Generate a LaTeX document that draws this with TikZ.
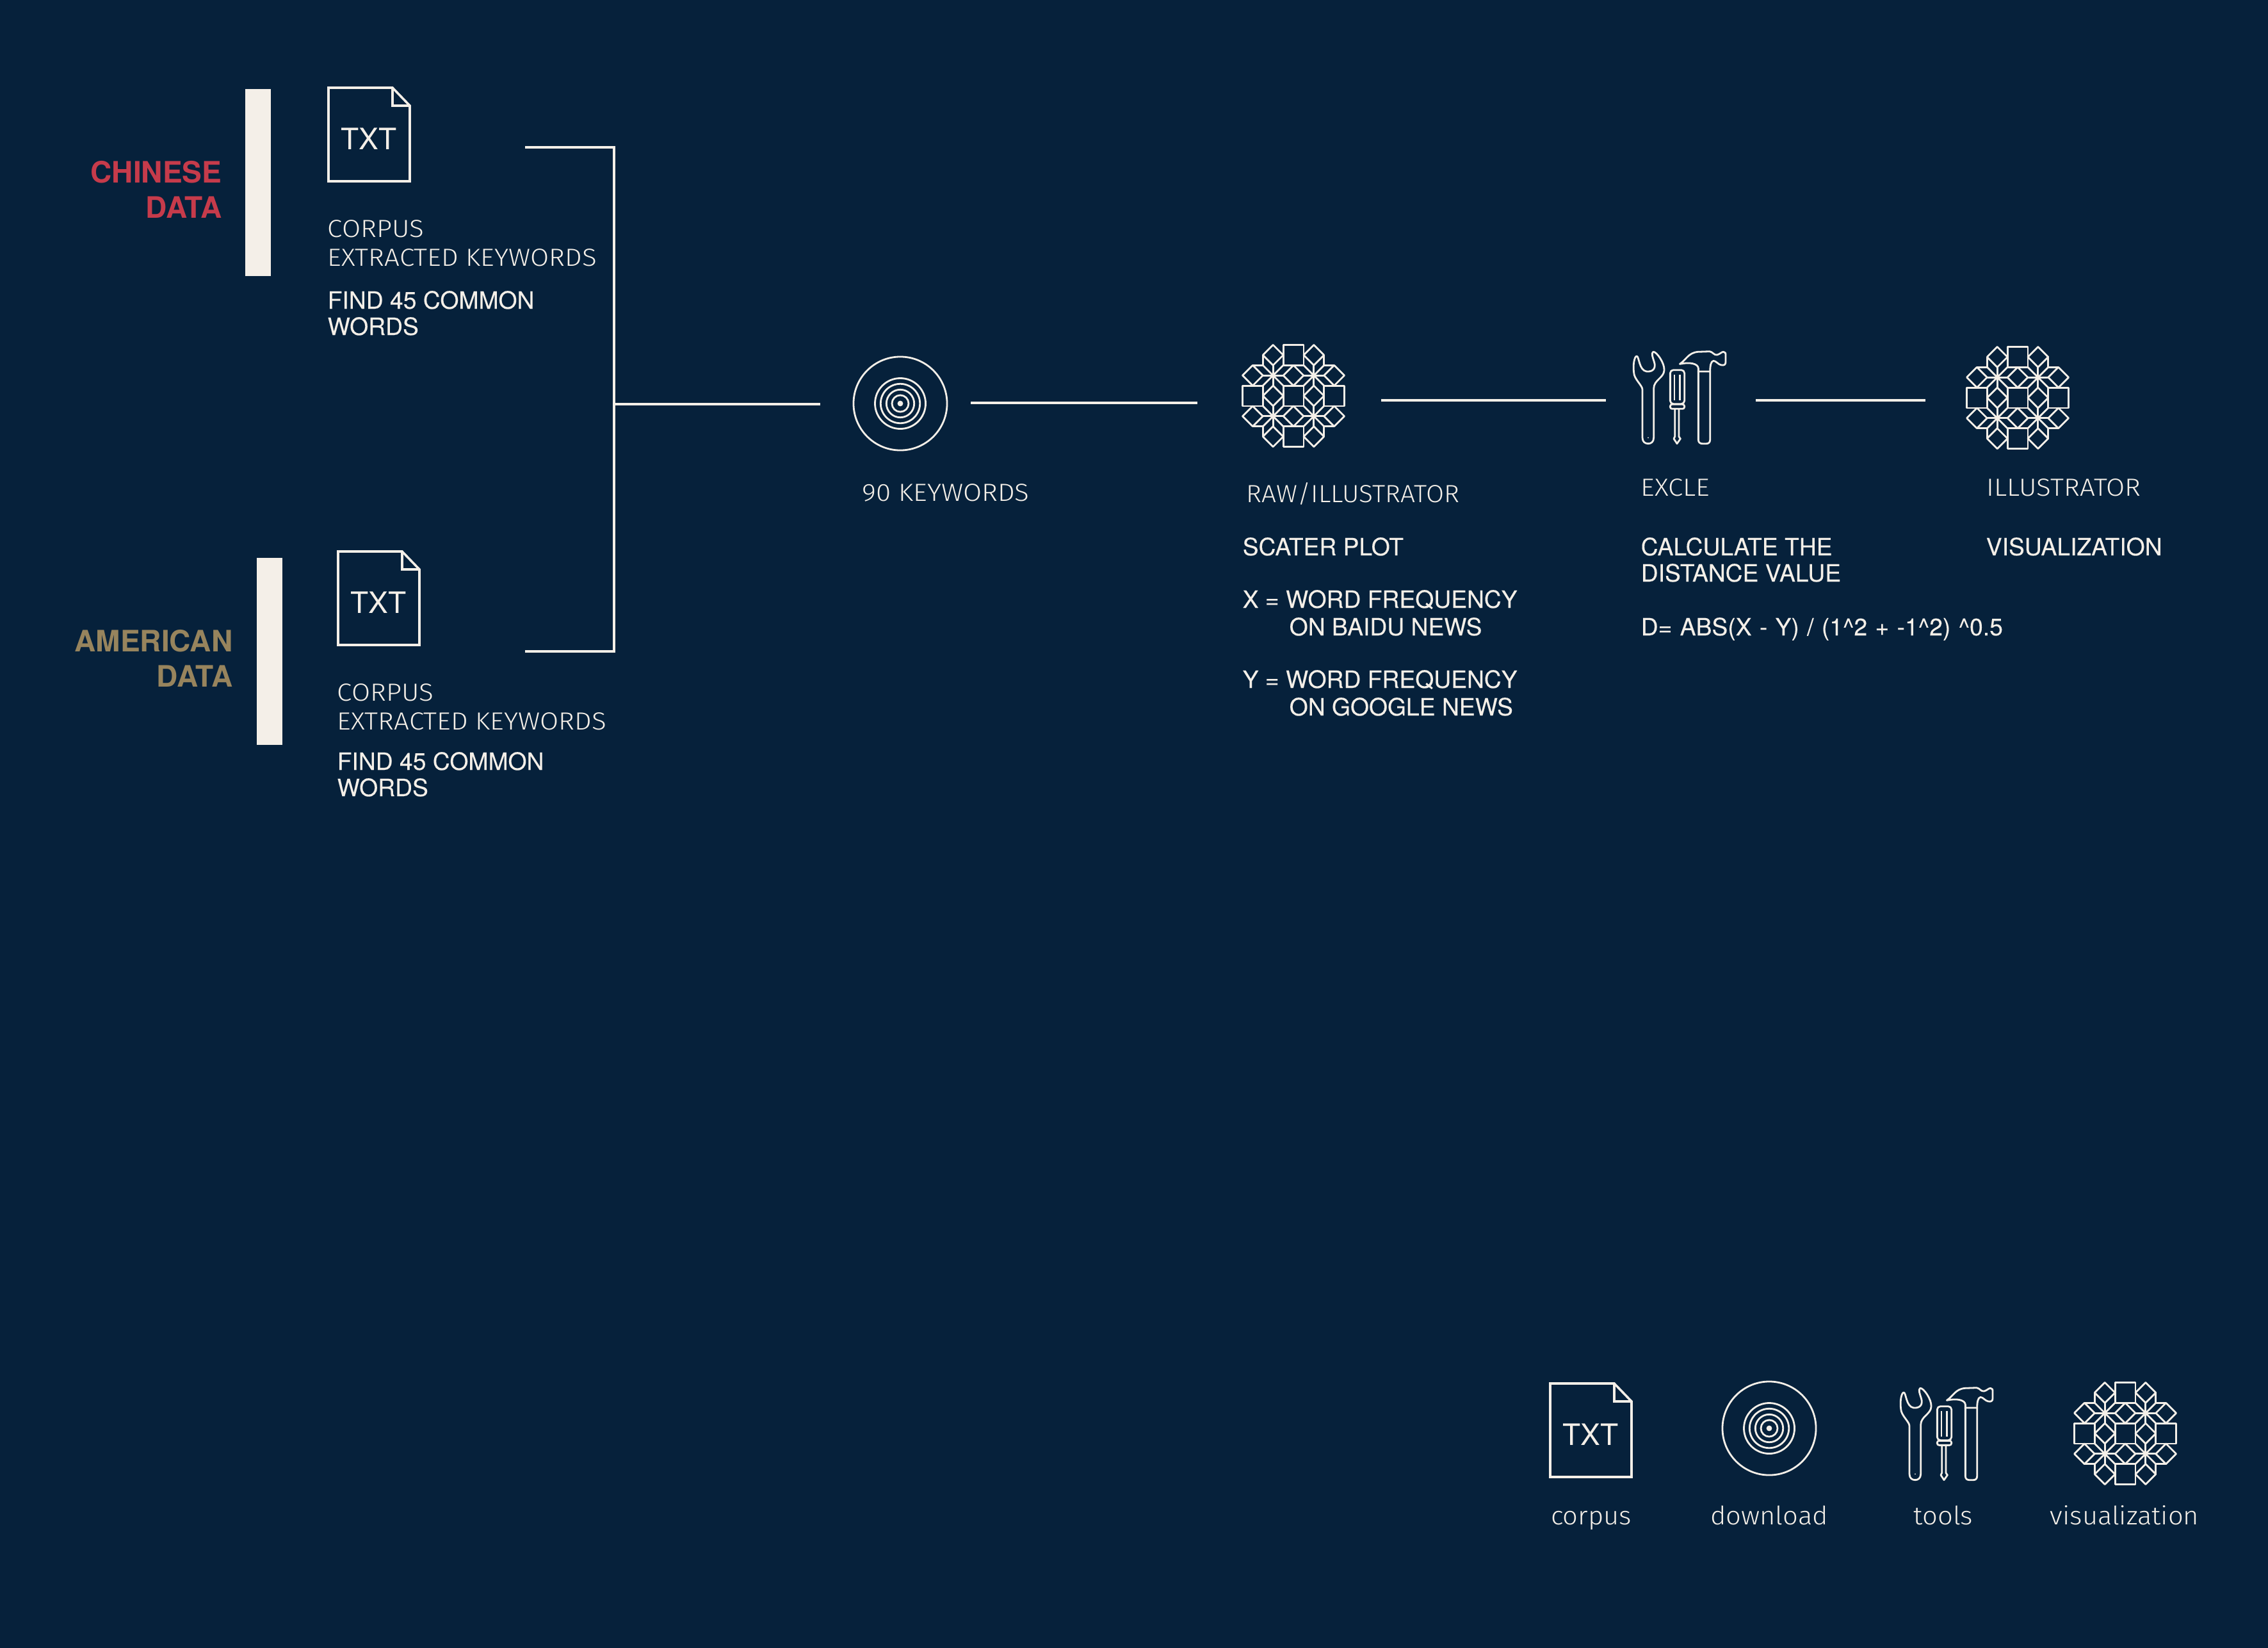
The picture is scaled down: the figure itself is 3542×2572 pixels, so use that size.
\documentclass[tikz,border=0pt]{standalone}
\usepackage{fontspec}
\setmainfont{TeX Gyre Heros}
\newfontfamily\stepfont[FakeBold=0.15]{TeX Gyre Heros}
\newfontfamily\lightfont[FakeStretch=1.09]{Fira Sans Light}
\newfontfamily\snugfont[FakeStretch=1.05]{Fira Sans Light}
\definecolor{navy}{HTML}{06213B}
\definecolor{cream}{HTML}{F4EFE8}
\definecolor{chinared}{HTML}{C63B4B}
\definecolor{usagold}{HTML}{97845D}
\tikzset{
  icon/.style={draw=cream,line width=0.028cm,line join=round},
  link/.style={draw=cream,line width=0.036cm},
  thinlab/.style={text=cream,inner sep=0pt,anchor=base west,font=\lightfont\fontsize{11}{13}\selectfont},
  mainlab/.style={text=cream,inner sep=0pt,anchor=base west,font=\stepfont\fontsize{10.6}{13}\selectfont},
  sidelab/.style={inner sep=0pt,anchor=base east,font=\bfseries\fontsize{13.1}{15}\selectfont},
  keylab/.style={text=cream,inner sep=0pt,anchor=base,font=\snugfont\fontsize{11.3}{13}\selectfont},
  pics/txtfile/.style={code={
    \draw [link] (0,0) -- (100,0) -- (127,28) -- (127,146) -- (0,146) -- cycle;
    \draw [link] (100,0) -- (100,28) -- (127,28);
    \node [text=cream,inner sep=0pt,anchor=base,font=\fontsize{13.1}{15}\selectfont] (txt) at (63,96) {TXT};
  }},
  pics/disc/.style={code={
    \draw [icon] (0,0) circle [radius=0.73cm];
    \foreach \r in {0.395,0.307,0.217,0.13} \draw [icon] (0,0) circle [radius=\r cm];
    \fill [cream] (0,0) circle [radius=0.044cm];
  }},
  pics/ornament/.style={code={
    \begin{scope}[x=0.318cm,y=0.318cm]
      \foreach \px/\py in {0/0,0/-2,0/2,-2/0,2/0}
        \draw [icon] (\px-.5,\py-.5) rectangle (\px+.5,\py+.5);
      \foreach \px/\py in {1/0,-1/0,0/1,0/-1,1/2,-1/2,1/-2,-1/-2,2/1,-2/1,2/-1,-2/-1}
        \draw [icon] (\px-.5,\py) -- (\px,\py+.5) -- (\px+.5,\py) -- (\px,\py-.5) -- cycle;
      \foreach \sx in {-1,1} \foreach \sy in {-1,1} {
        \foreach \dx/\dy in {.5/0,-.5/0,0/.5,0/-.5,.5/.5,-.5/.5,.5/-.5,-.5/-.5}
          \draw [icon] (\sx,\sy) -- (\sx+\dx,\sy+\dy);
        \draw [icon] (\sx*1.5,\sy*2) -- (\sx*1.5,\sy*1.5) -- (\sx*2,\sy*1.5);
      }
    \end{scope}
  }},
  pics/toolset/.style={code={
    \begin{scope}[scale=1/3]
      % wrench
      \draw [icon] (135,520) -- (135,295) .. controls (135,275) and (95,245) .. (95,215)
        .. controls (90,180) and (97,140) .. (108,138) .. controls (120,138) and (118,205) .. (155,210)
        .. controls (190,212) and (198,190) .. (190,165) .. controls (184,145) and (175,125) .. (185,118)
        .. controls (200,115) and (240,170) .. (237,205) .. controls (235,240) and (188,250) .. (188,290)
        -- (188,520) .. controls (188,540) and (175,548) .. (162,548) .. controls (148,548) and (135,540) .. (135,520) -- cycle;
      \fill [cream] (162,520) circle [radius=0.03cm];
      % screwdriver
      \draw [icon,rounded corners=0.05cm] (265,203) rectangle (332,362);
      \draw [icon,rounded corners=0.03cm] (265,364) rectangle (332,385);
      \draw [icon] (285,225) -- (285,345);
      \draw [icon] (310,225) -- (310,345);
      \draw [icon] (287,385) -- (287,515) -- (282,525) -- (297,548) -- (313,525) -- (306,515) -- (306,385);
      % hammer
      \draw [icon] (397,210) -- (397,530) .. controls (397,542) and (405,548) .. (415,548) -- (435,548)
        .. controls (445,548) and (452,542) .. (452,530) -- (452,210) -- cycle;
      \draw [icon] (397,212) -- (397,195) .. controls (395,172) and (355,165) .. (310,175)
        .. controls (340,155) and (350,122) .. (395,118) -- (450,116)
        .. controls (465,118) and (470,135) .. (485,132) .. controls (500,128) and (505,118) .. (515,118)
        .. controls (524,118) and (525,125) .. (525,135) -- (525,165) .. controls (525,178) and (518,182) .. (505,180)
        .. controls (490,178) and (480,160) .. (468,160) .. controls (455,162) and (452,185) .. (452,212);
    \end{scope}
  }}
}
\begin{document}
\begin{tikzpicture}[x=0.01cm,y=-0.01cm]
  \useasboundingbox (0,0) rectangle (3542,2572);
  \fill [navy] (-5,-5) rectangle (3547,2577);
  % chinese block
  \fill [cream] (383,139) rectangle (423,431);
  \node [sidelab,text=chinared] (cnhead) at (347,285) {CHINESE};
  \node [sidelab,text=chinared] (cndata) at (347,340) {DATA};
  \pic (cnfile) at (513,137) {txtfile};
  \node [thinlab] (cnone) at (511,370) {CORPUS};
  \node [thinlab] (cntwo) at (511,415) {EXTRACTED KEYWORDS};
  \node [mainlab] (cnfind) at (511,482) {FIND 45 COMMON};
  \node [mainlab] (cnwords) at (511,523) {WORDS};
  % american block
  \fill [cream] (401,871) rectangle (441,1163);
  \node [sidelab,text=usagold] (ushead) at (364,1017) {AMERICAN};
  \node [sidelab,text=usagold] (usdata) at (364,1072) {DATA};
  \pic (usfile) at (528,861) {txtfile};
  \node [thinlab] (usone) at (526,1094) {CORPUS};
  \node [thinlab] (ustwo) at (526,1139) {EXTRACTED KEYWORDS};
  \node [mainlab] (usfind) at (526,1202) {FIND 45 COMMON};
  \node [mainlab] (uswords) at (526,1243) {WORDS};
  % bracket and links
  \coordinate (cnend) at (820,230);
  \coordinate (usend) at (820,1017);
  \coordinate (brtop) at (959,230);
  \coordinate (brbot) at (959,1017);
  \coordinate (brmid) at (959,631);
  \coordinate (dlin) at (1281,631);
  \coordinate (dlout) at (1516,629);
  \coordinate (rawin) at (1870,629);
  \coordinate (rawout) at (2157,625);
  \coordinate (xlsin) at (2508,625);
  \coordinate (xlsout) at (2742,625);
  \coordinate (visin) at (3007,625);
  \draw [link] (cnend) -- (brtop) -- (brbot) -- (usend);
  \draw [link] (brmid) -- (dlin);
  \draw [link] (dlout) -- (rawin);
  \draw [link] (rawout) -- (xlsin);
  \draw [link] (xlsout) -- (visin);
  % steps
  \pic at (1406,630) {disc};
  \node [thinlab] (dlname) at (1346,782) {90 KEYWORDS};
  \pic at (2020,618) {ornament};
  \node [thinlab,font=\snugfont\fontsize{11}{13}\selectfont] (rawname) at (1946,784) {RAW/ILLUSTRATOR};
  \node [mainlab] (rawa) at (1940,867) {SCATER PLOT};
  \node [mainlab] (rawb) at (1940,949) {X = WORD FREQUENCY};
  \node [mainlab] (rawc) at (2013,992) {ON BAIDU NEWS};
  \node [mainlab] (rawd) at (1940,1074) {Y = WORD FREQUENCY};
  \node [mainlab] (rawe) at (2013,1117) {ON GOOGLE NEWS};
  \pic at (2520,510) {toolset};
  \node [thinlab] (xlsname) at (2562,774) {EXCLE};
  \node [mainlab] (xlsa) at (2562,867) {CALCULATE THE};
  \node [mainlab] (xlsb) at (2562,908) {DISTANCE VALUE};
  \node [mainlab] (xlsc) at (2562,992) {\spaceskip=.33em D= ABS(X - Y) / (1\string^2 + -1\string^2) \string^0.5};
  \pic at (3151,621) {ornament};
  \node [thinlab] (visname) at (3102,774) {ILLUSTRATOR};
  \node [mainlab] (visa) at (3101,867) {VISUALIZATION};
  % legend
  \pic (keyfile) at (2421,2160) {txtfile};
  \node [keylab] (keya) at (2485,2380) {corpus};
  \pic at (2763,2230) {disc};
  \node [keylab] (keyb) at (2763,2380) {download};
  \pic at (2937,2128) {toolset};
  \node [keylab] (keyc) at (3035,2380) {tools};
  \pic at (3319,2238) {ornament};
  \node [keylab] (keyd) at (3318,2380) {visualization};
\end{tikzpicture}
\end{document}
